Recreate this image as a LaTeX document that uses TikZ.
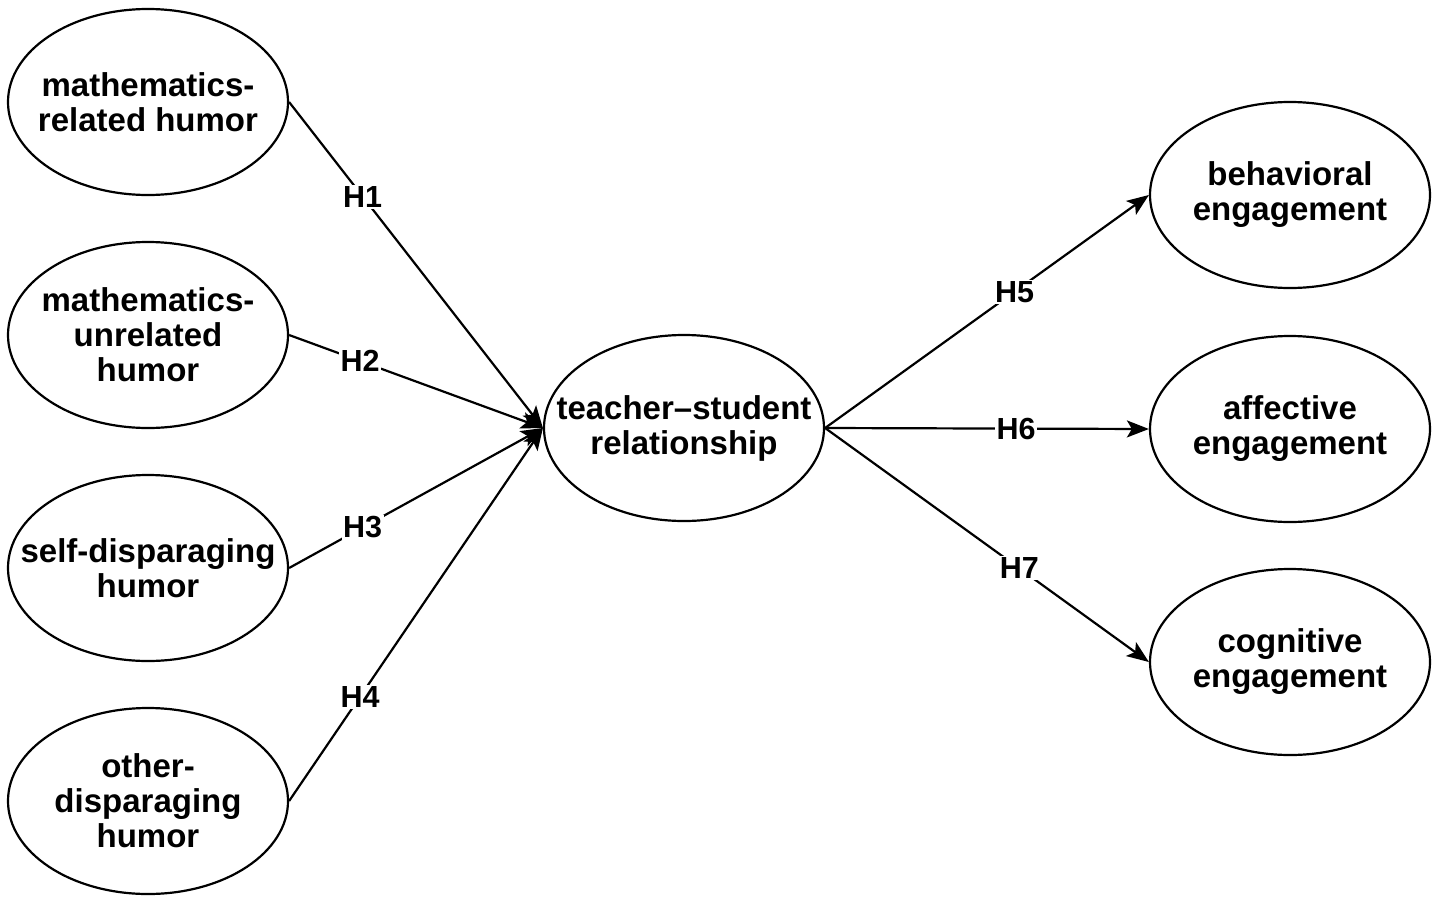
\documentclass[tikz,border=0pt]{standalone}
\usepackage{fontspec}
\setmainfont{Liberation Sans}
\usetikzlibrary{shapes.geometric,arrows.meta}
\begin{document}
\begin{tikzpicture}[x=1pt,y=-1pt,
  latent/.style={ellipse,draw,line width=2.2pt,minimum width=280pt,minimum height=186pt,inner sep=0pt},
  lbl/.style={align=center,inner sep=0pt,font=\fontsize{33}{35}\selectfont\bfseries},
  hpath/.style={line width=2.2pt,-{Stealth[length=22pt,width=17pt,inset=5pt]}},
  hyp/.style={fill=white,inner sep=1.5pt,font=\fontsize{30.5}{32}\selectfont\bfseries}]
\useasboundingbox (0,0) rectangle (1441,905);
% left ellipses
\node[latent] (e1) at (148,102) {};
\node[lbl] (t1) at (e1) {mathematics-\\related humor};
\node[latent] (e2) at (148,335) {};
\node[lbl] (t2) at (e2) {mathematics-\\unrelated\\humor};
\node[latent] (e3) at (148,568) {};
\node[lbl] (t3) at (e3) {self-disparaging\\humor};
\node[latent] (e4) at (148,801) {};
\node[lbl] (t4) at (e4) {other-\\disparaging\\humor};
% center
\node[latent] (tc) at (684,428) {};
\node[lbl] (tt) at (tc) {teacher–student\\relationship};
% right
\node[latent] (b) at (1290,195) {};
\node[lbl] (bt) at (b) {behavioral\\engagement};
\node[latent] (a) at (1290,429) {};
\node[lbl] (at) at (a) {affective\\engagement};
\node[latent] (c) at (1290,662) {};
\node[lbl] (ct) at (c) {cognitive\\engagement};
% paths
\draw[hpath] (e1.east) -- node[hyp,pos=0.29]{H1} (tc.west);
\draw[hpath] (e2.east) -- node[hyp,pos=0.28]{H2} (tc.west);
\draw[hpath] (e3.east) -- node[hyp,pos=0.29]{H3} (tc.west);
\draw[hpath] (e4.east) -- node[hyp,pos=0.28]{H4} (tc.west);
\draw[hpath] (tc.east) -- node[hyp,pos=0.585]{H5} (b.west);
\draw[hpath] (tc.east) -- node[hyp,pos=0.59]{H6} (a.west);
\draw[hpath] (tc.east) -- node[hyp,pos=0.6]{H7} (c.west);
\end{tikzpicture}
\end{document}
